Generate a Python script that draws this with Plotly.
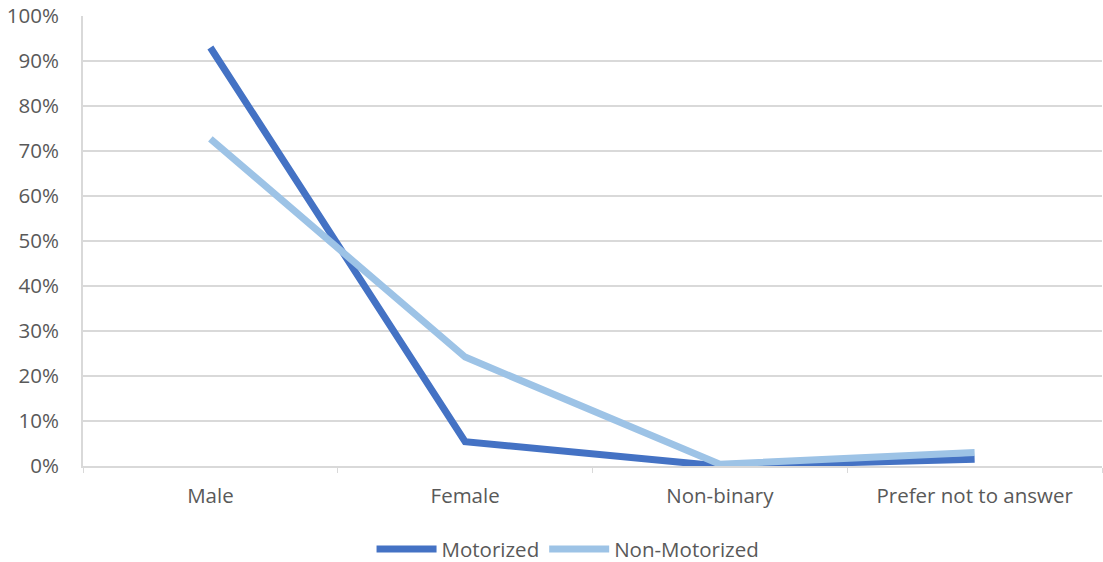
import plotly.graph_objects as go

categories = ["Male", "Female", "Non-binary", "Prefer not to answer"]
motorized = [0.930, 0.054, 0.0, 0.015]
non_motorized = [0.727, 0.242, 0.004, 0.030]
y_ticks = [i / 10 for i in range(11)]
y_tick_labels = [f"{i * 10}%" for i in range(11)]

font_family = "'Open Sans', Lato, sans-serif"
text_color = "#595959"
grid_color = "#d9d9d9"

fig = go.Figure()
fig.add_trace(go.Scatter(
    x=categories, y=motorized, name="Motorized", mode="lines",
    line=dict(color="#4472C4", width=7),
))
fig.add_trace(go.Scatter(
    x=categories, y=non_motorized, name="Non-Motorized", mode="lines",
    line=dict(color="#9DC3E6", width=7),
))

fig.update_layout(
    width=1103, height=562,
    margin=dict(l=83, r=1, t=16, b=96, autoexpand=False),
    paper_bgcolor="white", plot_bgcolor="white",
    font=dict(family=font_family, size=20.5, color=text_color),
    showlegend=True,
    legend=dict(
        orientation="h", x=0.515, xref="container", xanchor="center",
        y=0.023, yref="container", yanchor="middle",
        font=dict(size=20.5, color=text_color), itemwidth=60,
        traceorder="normal",
    ),
)
fig.update_xaxes(
    type="category", range=[-0.5, 3.5],
    showgrid=False, showline=True, linecolor=grid_color, linewidth=2,
    ticks="outside", tickson="boundaries", ticklen=5, tickcolor=grid_color,
    tickwidth=1, ticklabelstandoff=10,
    tickfont=dict(size=20.5, color=text_color),
)
fig.update_yaxes(
    range=[0, 1], tickvals=y_ticks, ticktext=y_tick_labels,
    showgrid=True, gridcolor=grid_color, gridwidth=2,
    showline=True, linecolor=grid_color, linewidth=2,
    zeroline=False, ticks="", ticklabelstandoff=18,
    tickfont=dict(size=20.5, color=text_color),
)

fig.write_html("out.html")
